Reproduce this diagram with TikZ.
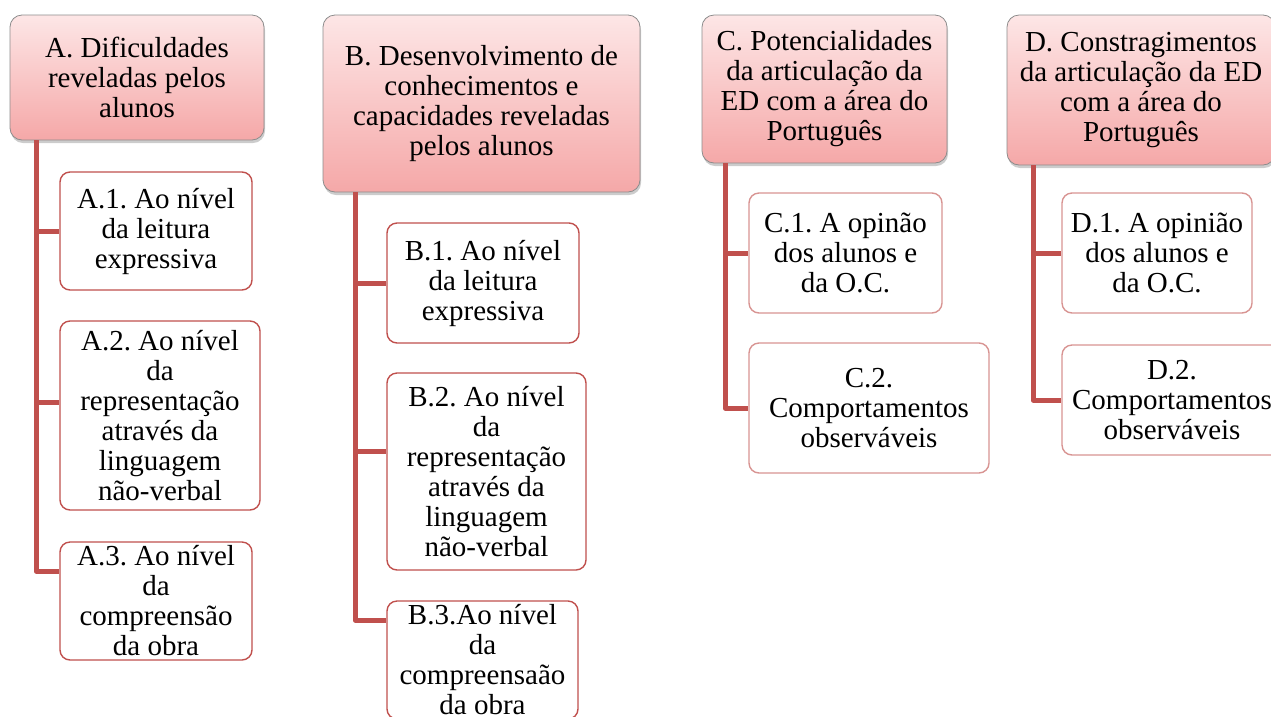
\documentclass[tikz,border=0pt]{standalone}
\usepackage{fontspec}
\setmainfont{Liberation Serif}
\usepackage{xcolor}
\usepackage{tikz}
\usetikzlibrary{positioning, calc, shadows}

\definecolor{trunkred}{HTML}{C0504D}
\definecolor{itemdark}{HTML}{C0504D}
\definecolor{itemsoft}{HTML}{D89492}
\definecolor{headline}{HTML}{8C8C8C}
\definecolor{headtop}{HTML}{FDE6E6}
\definecolor{headbot}{HTML}{F5A8A8}
\newcommand{\boxfont}{\fontsize{29}{30}\selectfont\frenchspacing}

\begin{document}
\begin{tikzpicture}[
        x=1pt, y=-1pt,
        head/.style={draw=headline, line width=0.8pt, rounded corners=12pt,
            top color=headtop, bottom color=headbot,
            drop shadow={opacity=0.4, shadow xshift=1pt, shadow yshift=-3pt},
            align=center, inner sep=0pt, font=\boxfont},
        item/.style={draw=itemdark, line width=1.4pt, fill=white, rounded corners=10pt,
            align=center, inner sep=0pt, font=\boxfont},
        itemsoft/.style={item, draw=itemsoft},
        trunk/.style={draw=trunkred, line width=5pt, line join=round}
    ]

    \useasboundingbox (0,0) rectangle (1271,716);

    % =========================================================================
    % 1. HEADER BOXES (Top Level)
    % =========================================================================
    \node[head, minimum width=254pt, minimum height=125pt] (A) at (137,77.5)
        {A. Dificuldades\\reveladas pelos\\alunos};
    \node[head, minimum width=317pt, minimum height=177pt] (B) at (481.5,103.5)
        {B. Desenvolvimento de\\conhecimentos e\\capacidades reveladas\\pelos alunos};
    \node[head, minimum width=245pt, minimum height=148pt] (C) at (824.5,89)
        {C. Potencialidades\\da articulação da\\ED com a área do\\Português};
    \node[head, minimum width=268pt, minimum height=150pt] (D) at (1141,90)
        {D. Constragimentos\\da articulação da ED\\com a área do\\Português};

    % =========================================================================
    % 2. CHILD BOXES (Second Level)
    % =========================================================================
    % Column A
    \node[item, minimum width=192pt, minimum height=118pt] (A1) at (156,231)
        {A.1. Ao nível\\da leitura\\expressiva};
    \node[item, minimum width=200pt, minimum height=189pt] (A2) at (160,415.5)
        {A.2. Ao nível\\da\\representação\\através da\\linguagem\\não-verbal};
    \node[item, minimum width=192pt, minimum height=118pt] (A3) at (156,601)
        {A.3. Ao nível\\da\\compreensão\\da obra};

    % Column B
    \node[item, minimum width=192pt, minimum height=120pt] (B1) at (483,283)
        {B.1. Ao nível\\da leitura\\expressiva};
    \node[item, minimum width=199pt, minimum height=197pt] (B2) at (486.5,471.5)
        {B.2. Ao nível\\da\\representação\\através da\\linguagem\\não-verbal};
    \node[item, minimum width=191pt, minimum height=118pt] (B3) at (482.5,660)
        {B.3.Ao nível\\da\\compreensaão\\da obra};

    % Column C
    \node[itemsoft, minimum width=193pt, minimum height=120pt] (C1) at (845.5,253)
        {C.1. A opinão\\dos alunos e\\da O.C.};
    \node[itemsoft, minimum width=240pt, minimum height=130pt] (C2) at (869,408)
        {C.2.\\Comportamentos\\observáveis};

    % Column D
    \node[itemsoft, minimum width=190pt, minimum height=120pt] (D1) at (1157,253)
        {D.1. A opinião\\dos alunos e\\da O.C.};
    \node[itemsoft, minimum width=220pt, minimum height=110pt] (D2) at (1172,400)
        {D.2.\\Comportamentos\\observáveis};

    % =========================================================================
    % 3. TRUNKS AND BRANCHES
    % =========================================================================
    % Branch points on each trunk
    \coordinate (At) at (36,0);
    \coordinate (A2b) at (36,402);
    \coordinate (A3b) at (36,571);
    \coordinate (Bt) at (355,0);
    \coordinate (B2b) at (355,451);
    \coordinate (B3b) at (355,620);
    \coordinate (Ct) at (725,0);
    \coordinate (Dt) at (1033,0);

    \draw[trunk] (At |- A.south) -- (A3b) -- (A3b -| A3.west);
    \draw[trunk] (At |- A1.west) -- (A1.west);
    \draw[trunk] (A2b) -- (A2b -| A2.west);

    \draw[trunk] (Bt |- B.south) -- (B3b) -- (B3b -| B3.west);
    \draw[trunk] (Bt |- B1.west) -- (B1.west);
    \draw[trunk] (B2b) -- (B2b -| B2.west);

    \draw[trunk] (Ct |- C.south) |- (C2.west);
    \draw[trunk] (Ct |- C1.west) -- (C1.west);

    \draw[trunk] (Dt |- D.south) |- (D2.west);
    \draw[trunk] (Dt |- D1.west) -- (D1.west);

\end{tikzpicture}
\end{document}
